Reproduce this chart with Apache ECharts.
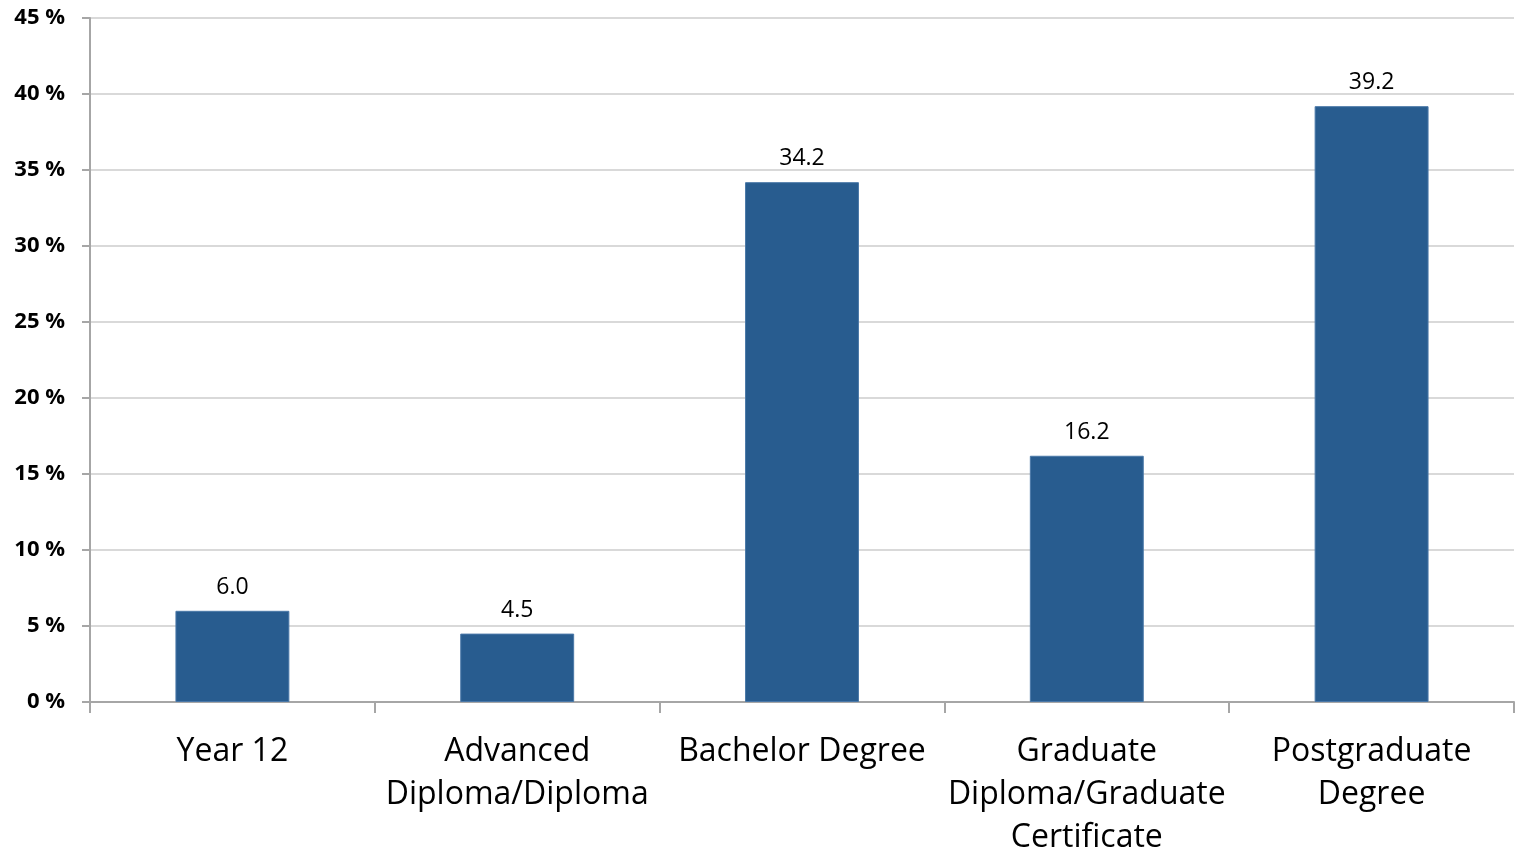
<!DOCTYPE html>
<html>
<head>
<meta charset="utf-8">
<script src="https://cdn.jsdelivr.net/npm/echarts@6/dist/echarts.min.js"></script>
<style>
  html, body { margin: 0; padding: 0; background: #ffffff; overflow: hidden; }
  #chart { width: 1515px; height: 859px; }
</style>
</head>
<body>
<div id="chart"></div>
<script>
// Highest qualification levels and their share (%)
const categories = [
  'Year 12',
  'Advanced\nDiploma/Diploma',
  'Bachelor Degree',
  'Graduate\nDiploma/Graduate\nCertificate',
  'Postgraduate\nDegree'
];
const shares = [6.0, 4.5, 34.2, 16.2, 39.2];
const yTicks = [0, 5, 10, 15, 20, 25, 30, 35, 40, 45];

const FONT = '"Open Sans", "Noto Sans", sans-serif';

const chart = echarts.init(document.getElementById('chart'), null, { renderer: 'canvas' });
chart.setOption({
  animation: false,
  backgroundColor: '#ffffff',
  grid: { left: 90, right: 1, top: 18, bottom: 155, containLabel: false },
  xAxis: {
    type: 'category',
    data: categories,
    axisLine: { lineStyle: { color: '#a6a6a6', width: 2 } },
    axisTick: { show: true, alignWithLabel: false, length: 11, lineStyle: { color: '#a6a6a6', width: 2 } },
    axisLabel: {
      interval: 0,
      margin: 28,
      fontFamily: FONT,
      fontSize: 32,
      lineHeight: 43,
      color: '#000000'
    }
  },
  yAxis: {
    type: 'value',
    min: yTicks[0],
    max: yTicks[yTicks.length - 1],
    interval: 5,
    axisLine: { show: true, lineStyle: { color: '#a6a6a6', width: 2 } },
    axisTick: { show: true, length: 8, lineStyle: { color: '#a6a6a6', width: 2 } },
    splitLine: { lineStyle: { color: '#d9d9d9', width: 2 } },
    axisLabel: {
      margin: 25,
      fontFamily: FONT,
      fontSize: 22,
      fontWeight: 'bold',
      color: '#000000',
      formatter: v => v + ' %'
    }
  },
  series: [{
    type: 'bar',
    data: shares,
    barWidth: '40%',
    itemStyle: { color: '#285c8f', borderColor: '#4a78a8', borderWidth: 1 },
    label: {
      show: true,
      position: 'top',
      distance: 12,
      fontFamily: FONT,
      fontSize: 23,
      color: '#000000',
      formatter: p => p.value.toFixed(1)
    }
  }]
});
</script>
</body>
</html>
